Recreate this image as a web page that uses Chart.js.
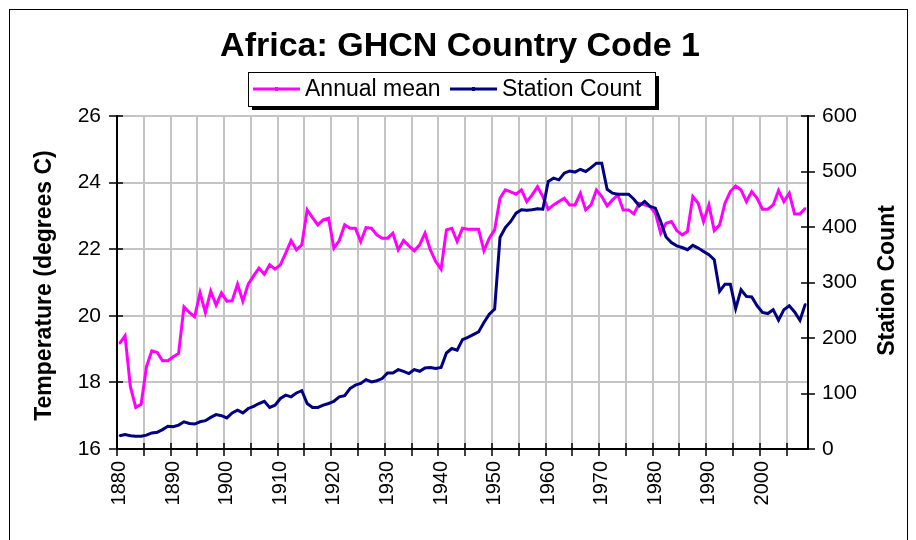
<!DOCTYPE html>
<html>
<head>
<meta charset="utf-8">
<script src="https://cdn.jsdelivr.net/npm/chart.js@4.4.0/dist/chart.umd.min.js"></script>
<style>
  body { margin: 0; background: #fff; }
  #caja { width: 916px; height: 540px; position: relative; }
</style>
</head>
<body>
<div id="caja"><canvas id="grafica"></canvas></div>
<script>
// textos
const titulo = 'Africa: GHCN Country Code 1';
const nombreTemp = 'Annual mean';
const nombreEst = 'Station Count';
const tituloIzq = 'Temperature (degrees C)';
const tituloDer = 'Station Count';

// eje de años: 1880 .. 2008
const primerAnio = 1880;
const ultimoAnio = 2008;
const anios = [];
for (let a = primerAnio; a <= ultimoAnio; a++) anios.push(a);

// escalas
const tempMin = 16, tempMax = 26, tempPaso = 2;
const estMin = 0, estMax = 600, estPaso = 100;

// temperatura media anual (grados C)
const temperatura = [
  19.17, 19.40, 17.87, 17.25, 17.34, 18.47, 18.95, 18.90, 18.65, 18.65,
  18.77, 18.87, 20.27, 20.10, 19.97, 20.69, 20.10, 20.74, 20.32, 20.69,
  20.44, 20.45, 20.95, 20.44, 20.95, 21.20, 21.43, 21.25, 21.53, 21.40,
  21.53, 21.88, 22.26, 21.98, 22.13, 23.18, 22.95, 22.73, 22.88, 22.93,
  22.03, 22.26, 22.73, 22.63, 22.63, 22.23, 22.65, 22.63, 22.43, 22.33,
  22.33, 22.48, 21.98, 22.26, 22.10, 21.95, 22.13, 22.48, 21.98, 21.63,
  21.40, 22.58, 22.63, 22.23, 22.63, 22.60, 22.60, 22.60, 21.95, 22.33,
  22.58, 23.53, 23.78, 23.72, 23.65, 23.78, 23.43, 23.63, 23.88, 23.58,
  23.20, 23.33, 23.43, 23.53, 23.33, 23.33, 23.68, 23.18, 23.33, 23.78,
  23.58, 23.30, 23.48, 23.63, 23.18, 23.18, 23.06, 23.38, 23.33, 23.28,
  23.08, 22.48, 22.78, 22.83, 22.56, 22.43, 22.53, 23.58, 23.38, 22.83,
  23.33, 22.56, 22.73, 23.38, 23.73, 23.90, 23.78, 23.43, 23.73, 23.53,
  23.20, 23.20, 23.33, 23.76, 23.43, 23.68, 23.06, 23.06, 23.23
];

// numero de estaciones
const estaciones = [
  24, 26, 24, 23, 23, 25, 29, 30, 35, 41,
  40, 43, 49, 46, 45, 49, 51, 57, 62, 60,
  56, 65, 70, 65, 73, 77, 82, 86, 75, 79,
  91, 97, 94, 101, 105, 82, 75, 75, 79, 82,
  86, 94, 96, 109, 115, 118, 125, 121, 123, 127,
  137, 137, 143, 140, 136, 143, 140, 146, 147, 145,
  147, 173, 181, 178, 197, 201, 206, 211, 228, 243,
  252, 381, 399, 410, 425, 431, 430, 431, 433, 432,
  482, 488, 485, 497, 501, 499, 504, 500, 507, 515,
  515, 468, 461, 459, 459, 459, 450, 438, 446, 437,
  434, 410, 382, 372, 366, 363, 359, 367, 362, 356,
  350, 341, 284, 297, 297, 253, 287, 275, 274, 258,
  246, 244, 251, 232, 251, 258, 247, 232, 261
];

const colorTemp = '#ff00ff';
const colorEst = '#000080';
const fuente = '"Liberation Sans", Arial, sans-serif';

// dibuja titulo, leyenda, titulos de ejes, marcas y marco
const adornos = {
  id: 'adornos',
  beforeDraw(chart) {
    const ctx = chart.ctx;
    ctx.save();
    ctx.fillStyle = '#fff';
    ctx.fillRect(0, 0, chart.width, chart.height);
    ctx.restore();
  },
  afterDraw(chart) {
    const ctx = chart.ctx;
    const area = chart.chartArea;
    const xs = chart.scales.x;
    const yt = chart.scales.yTemp;
    const ye = chart.scales.yEst;
    ctx.save();

    // marco exterior
    ctx.strokeStyle = '#000';
    ctx.lineWidth = 1;
    ctx.strokeRect(9.5, 9.5, 898, 600);

    // titulo
    ctx.fillStyle = '#000';
    ctx.font = 'bold 34px ' + fuente;
    ctx.textAlign = 'center';
    ctx.textBaseline = 'alphabetic';
    ctx.fillText(titulo, 460, 56);

    // leyenda con sombra
    const lx = 248, ly = 72, lw = 407, lh = 34;
    ctx.fillStyle = '#000';
    ctx.fillRect(lx + 4, ly + 4, lw, lh);
    ctx.fillStyle = '#fff';
    ctx.fillRect(lx, ly, lw, lh);
    ctx.strokeStyle = '#000';
    ctx.lineWidth = 1;
    ctx.strokeRect(lx + 0.5, ly + 0.5, lw, lh);
    ctx.font = '23px ' + fuente;
    ctx.textAlign = 'left';
    ctx.textBaseline = 'middle';
    const items = [
      { x: 253, ds: chart.data.datasets[0] },
      { x: 450, ds: chart.data.datasets[1] }
    ];
    items.forEach(it => {
      ctx.strokeStyle = it.ds.borderColor;
      ctx.lineWidth = 3;
      ctx.beginPath();
      ctx.moveTo(it.x, ly + lh / 2);
      ctx.lineTo(it.x + 47, ly + lh / 2);
      ctx.stroke();
      ctx.fillStyle = it.ds.borderColor;
      ctx.fillRect(it.x + 22, ly + lh / 2 - 2, 3, 4);
      ctx.fillStyle = '#000';
      ctx.fillText(it.ds.label, it.x + 52, ly + lh / 2 + 1);
    });

    // titulos de los ejes (los dos de abajo hacia arriba)
    ctx.font = 'bold 23px ' + fuente;
    ctx.textAlign = 'center';
    ctx.textBaseline = 'middle';
    const medio = (area.top + area.bottom) / 2;
    ctx.save();
    ctx.translate(45, medio + 3);
    ctx.rotate(-Math.PI / 2);
    ctx.fillText(tituloIzq, 0, 0);
    ctx.restore();
    ctx.save();
    ctx.translate(888, medio - 2);
    ctx.rotate(-Math.PI / 2);
    ctx.fillText(tituloDer, 0, 0);
    ctx.restore();

    // marcas cruzadas en los ejes
    ctx.strokeStyle = '#000';
    ctx.lineWidth = 1.5;
    ctx.beginPath();
    const medioCat = (xs.getPixelForValue(1) - xs.getPixelForValue(0)) / 2;
    for (let i = 0; i <= anios.length; i += 5) {
      const px = Math.round(xs.getPixelForValue(0) - medioCat + i * medioCat * 2);
      ctx.moveTo(px, area.bottom - 6);
      ctx.lineTo(px, area.bottom + 7);
    }
    for (let v = tempMin; v <= tempMax; v += tempPaso) {
      const py = Math.round(yt.getPixelForValue(v));
      ctx.moveTo(area.left - 8, py);
      ctx.lineTo(area.left + 6, py);
    }
    for (let v = estMin; v <= estMax; v += estPaso) {
      const py = Math.round(ye.getPixelForValue(v));
      ctx.moveTo(area.right - 7, py);
      ctx.lineTo(area.right + 7, py);
    }
    ctx.stroke();
    ctx.restore();
  }
};

const ctx = document.getElementById('grafica');
new Chart(ctx, {
  type: 'line',
  data: {
    labels: anios,
    datasets: [
      {
        label: nombreTemp,
        data: temperatura,
        yAxisID: 'yTemp',
        borderColor: colorTemp,
        backgroundColor: colorTemp,
        borderWidth: 3,
        pointRadius: 1.3,
        pointStyle: 'rect',
        pointBorderWidth: 0,
        tension: 0,
        order: 1
      },
      {
        label: nombreEst,
        data: estaciones,
        yAxisID: 'yEst',
        borderColor: colorEst,
        backgroundColor: colorEst,
        borderWidth: 3,
        pointRadius: 1.3,
        pointStyle: 'rect',
        pointBorderWidth: 0,
        tension: 0,
        order: 0
      }
    ]
  },
  options: {
    responsive: true,
    maintainAspectRatio: false,
    animation: false,
    layout: { padding: { top: 116, left: 0, right: 0, bottom: 0 } },
    plugins: {
      legend: { display: false },
      title: { display: false },
      tooltip: { enabled: false }
    },
    scales: {
      x: {
        type: 'category',
        offset: true,
        grid: {
          offset: true,
          drawTicks: false,
          color: c => (c.index % 5 === 0 ? '#c4c4c4' : 'rgba(0,0,0,0)'),
          lineWidth: 2
        },
        border: { color: '#000', width: 2 },
        ticks: {
          autoSkip: false,
          minRotation: 90,
          maxRotation: 90,
          padding: 12,
          color: '#000',
          font: { family: fuente, size: 20 },
          callback: function (val, i) {
            const a = anios[i];
            return a % 10 === 0 ? String(a) : '';
          }
        },
        afterFit: s => { s.height = 91; }
      },
      yTemp: {
        position: 'left',
        min: tempMin,
        max: tempMax,
        grid: { color: '#c4c4c4', lineWidth: 2, drawTicks: false },
        border: { color: '#000', width: 2 },
        ticks: {
          stepSize: tempPaso,
          padding: 16,
          color: '#000',
          font: { family: fuente, size: 21 }
        },
        afterFit: s => { s.width = 117; }
      },
      yEst: {
        position: 'right',
        min: estMin,
        max: estMax,
        grid: { drawOnChartArea: false, drawTicks: false },
        border: { color: '#000', width: 2 },
        ticks: {
          stepSize: estPaso,
          padding: 14,
          color: '#000',
          font: { family: fuente, size: 21 }
        },
        afterFit: s => { s.width = 108; }
      }
    }
  },
  plugins: [adornos]
});
</script>
</body>
</html>
